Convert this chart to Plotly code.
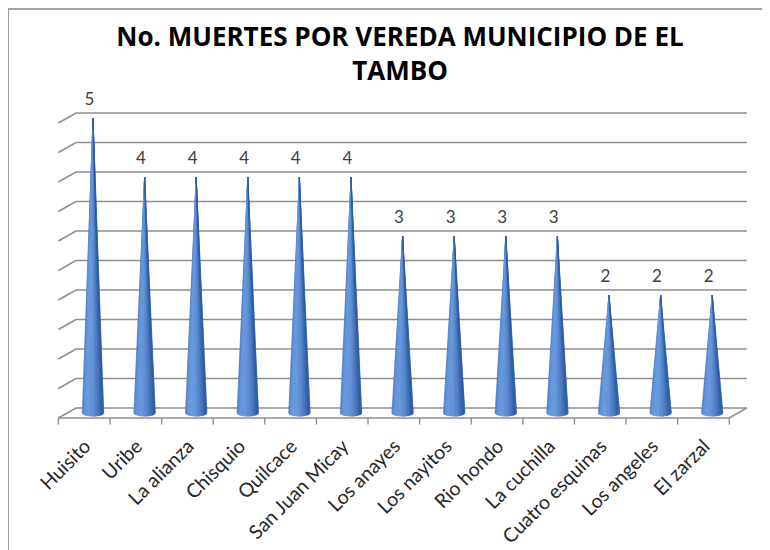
import numpy as np
import plotly.graph_objects as go

categories = ["Huisito", "Uribe", "La alianza", "Chisquio", "Quilcace", "San Juan Micay",
              "Los anayes", "Los nayitos", "Rio hondo", "La cuchilla", "Cuatro esquinas",
              "Los angeles", "El zarzal"]
values = [5, 4, 4, 4, 4, 4, 3, 3, 3, 3, 2, 2, 2]
grid_values = [0, 0.5, 1, 1.5, 2, 2.5, 3, 3.5, 4, 4.5, 5]
title_text = "No. MUERTES POR VEREDA MUNICIPIO DE EL<br>TAMBO"

n = len(categories)
xs = np.arange(n)

# 3D perspective offsets (data units)
back_dx, back_dy = 0.17, 0.085
front_dx, front_dy = -0.17, -0.085
cone_w = 0.21
ell_h = 0.055
grid_color = "#8f8f8f"

fig = go.Figure()

# back wall gridlines with slanted left side edges
gx, gy = [], []
for g in grid_values:
    gx += [-0.5 + front_dx, -0.5 + back_dx, n - 0.5 + back_dx, None]
    gy += [g + front_dy, g + back_dy, g + back_dy, None]
fig.add_trace(go.Scatter(x=gx, y=gy, mode="lines", line=dict(color=grid_color, width=1.6),
                         hoverinfo="skip", showlegend=False))

# floor front edge + right slant
fig.add_trace(go.Scatter(x=[-0.5 + front_dx, n - 0.5 + front_dx, n - 0.5 + back_dx],
                         y=[front_dy, front_dy, back_dy], mode="lines",
                         line=dict(color=grid_color, width=1.6), hoverinfo="skip", showlegend=False))

# category ticks on floor front edge
tx, ty = [], []
for k in range(n + 1):
    xk = k - 0.5 + front_dx
    tx += [xk, xk, None]
    ty += [front_dy, front_dy - 0.11, None]
fig.add_trace(go.Scatter(x=tx, y=ty, mode="lines", line=dict(color=grid_color, width=1.4),
                         hoverinfo="skip", showlegend=False))

# cones: shaded slices
def shade(theta):
    light = np.array([-0.5, 1.0])
    light = light / np.linalg.norm(light)
    nx, nz = -np.cos(theta), np.sin(theta)
    d = max(0.0, nx * light[0] + nz * light[1])
    base = np.array([48, 92, 162])
    hi = np.array([108, 158, 225])
    t = d ** 1.4
    c = base + (hi - base) * t
    return "rgb(%d,%d,%d)" % tuple(c.astype(int))

N = 24
for i, v in zip(xs, values):
    th = np.linspace(0, np.pi, N + 1)
    xe = [i - cone_w * np.cos(t) for t in th]
    ye = [-ell_h * np.sin(t) for t in th]
    fig.add_trace(go.Scatter(x=[i] + xe + [i], y=[v] + ye + [v], mode="lines", fill="toself",
                             fillcolor="rgb(78,124,194)", line=dict(width=0),
                             hoverinfo="skip", showlegend=False))
    for k in range(N):
        t0, t1 = th[k], th[k + 1]
        xa, ya = i - cone_w * np.cos(t0), -ell_h * np.sin(t0)
        xb, yb = i - cone_w * np.cos(t1), -ell_h * np.sin(t1)
        col = shade(0.5 * (t0 + t1))
        fig.add_trace(go.Scatter(x=[i, xa, xb, i], y=[v, ya, yb, v], mode="lines",
                                 fill="toself", fillcolor=col, line=dict(color=col, width=0.3),
                                 hoverinfo="skip", showlegend=False))

# data labels
fig.add_trace(go.Scatter(x=xs - 0.07, y=values, mode="markers+text", text=[str(v) for v in values],
                         textposition="top center", marker=dict(size=12, color="rgba(0,0,0,0)"),
                         textfont=dict(family="Lato, sans-serif", size=17, color="#404040"),
                         hoverinfo="skip", showlegend=False, cliponaxis=False))

# frame
fig.add_shape(type="rect", xref="paper", yref="paper", x0=-0.0444, x1=1.2, y0=-0.6, y1=1.2606,
              line=dict(color="#868686", width=1.5), fillcolor="rgba(0,0,0,0)", layer="below")

fig.update_layout(
    width=762, height=542,
    margin=dict(l=32, r=10, t=87, b=125),
    paper_bgcolor="white", plot_bgcolor="white",
    title=dict(text=title_text, x=0.5, xanchor="center", xref="paper", y=0.93, yanchor="top",
               font=dict(family="Open Sans, sans-serif", size=26, color="black", weight="bold")),
    xaxis=dict(range=[-1.027, 12.926], showgrid=False, zeroline=False, showline=False,
               automargin=False,
               tickmode="array", tickvals=list(xs), ticktext=categories, tickangle=-45,
               ticks="", ticklabelstandoff=5, ticklabelshift=-8,
               tickfont=dict(family="Lato, sans-serif", size=19.5, color="#262626")),
    yaxis=dict(range=[-0.203, 5.39], showgrid=False, zeroline=False, showline=False,
               automargin=False, showticklabels=False, ticks=""),
)

fig.write_html("out.html")
